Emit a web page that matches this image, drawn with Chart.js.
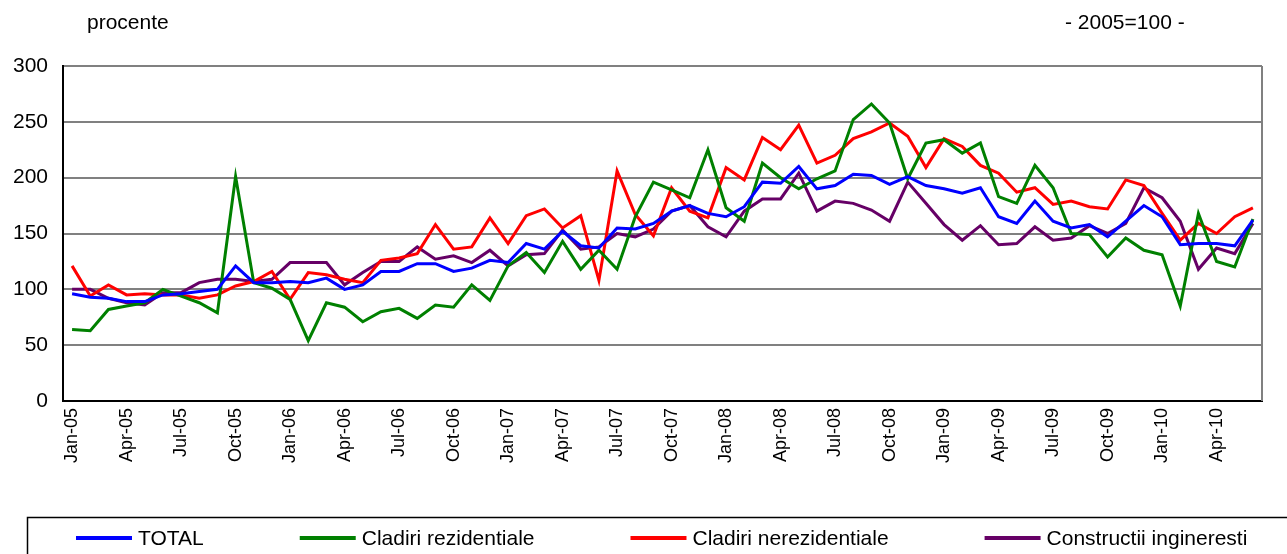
<!DOCTYPE html>
<html>
<head>
<meta charset="utf-8">
<script src="https://cdn.jsdelivr.net/npm/chart.js"></script>
<style>
  *{margin:0;padding:0;box-sizing:border-box}
  body{background:#fff;width:1287px;height:554px;overflow:hidden}
  .wrap{position:relative;width:1287px;height:554px}
</style>
</head>
<body>
<div class="wrap"><canvas id="chart"></canvas></div>
<script>
// luni Jan-05 .. Jun-10
const months = [
  "Jan-05","Feb-05","Mar-05","Apr-05","May-05","Jun-05","Jul-05","Aug-05","Sep-05","Oct-05","Nov-05","Dec-05",
  "Jan-06","Feb-06","Mar-06","Apr-06","May-06","Jun-06","Jul-06","Aug-06","Sep-06","Oct-06","Nov-06","Dec-06",
  "Jan-07","Feb-07","Mar-07","Apr-07","May-07","Jun-07","Jul-07","Aug-07","Sep-07","Oct-07","Nov-07","Dec-07",
  "Jan-08","Feb-08","Mar-08","Apr-08","May-08","Jun-08","Jul-08","Aug-08","Sep-08","Oct-08","Nov-08","Dec-08",
  "Jan-09","Feb-09","Mar-09","Apr-09","May-09","Jun-09","Jul-09","Aug-09","Sep-09","Oct-09","Nov-09","Dec-09",
  "Jan-10","Feb-10","Mar-10","Apr-10","May-10","Jun-10"
];

const total = [
  96,93,92,89,89,95,96,98,100,121,106,106,
  107,106,110,100,104,116,116,123,123,116,119,126,
  124,141,136,152,139,137,155,154,159,170,175,168,
  165,174,196,195,210,190,193,203,202,194,201,193,
  190,186,191,165,159,179,161,155,158,147,161,175,
  165,140,141,141,139,162
];
const rezidentiale = [
  64,63,82,85,88,100,94,88,79,201,106,101,
  91,54,88,84,71,80,83,74,86,84,104,90,
  121,133,115,143,118,135,118,165,196,189,182,225,
  173,161,213,200,190,199,206,252,266,249,199,231,
  234,222,231,183,177,211,191,150,149,129,146,135,
  131,85,168,125,120,163
];
const nerezidentiale = [
  121,94,104,95,96,95,95,92,95,103,107,116,
  91,115,113,109,106,126,128,132,158,136,138,164,
  141,166,172,155,166,108,206,167,148,191,170,164,
  209,198,236,225,247,213,220,235,241,249,237,209,
  235,228,211,204,187,191,176,179,174,172,198,193,
  168,144,159,150,165,173
];
const ingineresti = [
  100,100,92,88,86,97,97,106,109,109,107,109,
  124,124,124,104,115,125,125,138,127,130,124,135,
  121,131,132,153,136,138,150,147,154,170,175,156,
  147,170,181,181,204,170,179,177,171,161,196,177,
  158,144,157,140,141,156,144,146,157,150,159,191,
  182,161,118,137,132,159
];

const seriesNames = ["TOTAL", "Cladiri rezidentiale", "Cladiri nerezidentiale", "Constructii ingineresti"];
const seriesColors = ["#0000ff", "#008000", "#ff0000", "#660066"];
const seriesValues = [total, rezidentiale, nerezidentiale, ingineresti];

const FONT = "'Liberation Sans', Arial, sans-serif";

// texte de sus, chenarul din dreapta si legenda
const decor = {
  id: "decor",
  afterDraw(chart) {
    const { ctx, chartArea: a } = chart;
    ctx.save();
    // margine dreapta gri
    ctx.strokeStyle = "#808080";
    ctx.lineWidth = 2;
    ctx.beginPath();
    ctx.moveTo(a.right, a.top);
    ctx.lineTo(a.right, a.bottom);
    ctx.stroke();

    ctx.fillStyle = "#000";
    ctx.font = "21px " + FONT;
    ctx.textBaseline = "middle";
    ctx.textAlign = "left";
    ctx.fillText("procente", 87, 23);
    ctx.fillText("- 2005=100 -", 1065, 23);

    // legenda
    ctx.strokeStyle = "#000";
    ctx.lineWidth = 1.5;
    ctx.strokeRect(27.5, 517.5, 1300, 100);
    ctx.font = "21px " + FONT;
    let x = 76;
    chart.data.datasets.forEach(ds => {
      ctx.strokeStyle = ds.borderColor;
      ctx.lineWidth = 4;
      ctx.beginPath();
      ctx.moveTo(x, 538);
      ctx.lineTo(x + 56, 538);
      ctx.stroke();
      ctx.fillStyle = "#000";
      ctx.fillText(ds.label, x + 62, 539);
      x += 62 + ctx.measureText(ds.label).width + 96;
    });
    ctx.restore();
  }
};

new Chart(document.getElementById("chart"), {
  type: "line",
  data: {
    labels: months,
    datasets: seriesValues.map((vals, i) => ({
      label: seriesNames[i],
      data: vals,
      borderColor: seriesColors[i],
      backgroundColor: seriesColors[i],
      borderWidth: 3,
      pointRadius: 0,
      tension: 0,
      fill: false
    }))
  },
  options: {
    responsive: true,
    maintainAspectRatio: false,
    animation: false,
    layout: { padding: { top: 66, right: 25, bottom: 0, left: 0 } },
    plugins: { legend: { display: false }, tooltip: { enabled: false } },
    scales: {
      x: {
        offset: true,
        grid: { display: false, drawTicks: false },
        border: { color: "#000", width: 2 },
        ticks: {
          autoSkip: false,
          minRotation: 90,
          maxRotation: 90,
          padding: 7,
          color: "#000",
          font: { family: FONT, size: 18 },
          callback: function (v, i) { return i % 3 === 0 ? this.getLabelForValue(v) : ""; }
        },
        afterFit: s => { s.height = 153; }
      },
      y: {
        min: 0,
        max: 300,
        grid: { color: "#808080", lineWidth: 2, drawTicks: false },
        border: { color: "#000", width: 2 },
        ticks: {
          stepSize: 50,
          padding: 15,
          color: "#000",
          font: { family: FONT, size: 21 }
        },
        afterFit: s => { s.width = 63; }
      }
    }
  },
  plugins: [decor]
});
</script>
</body>
</html>
